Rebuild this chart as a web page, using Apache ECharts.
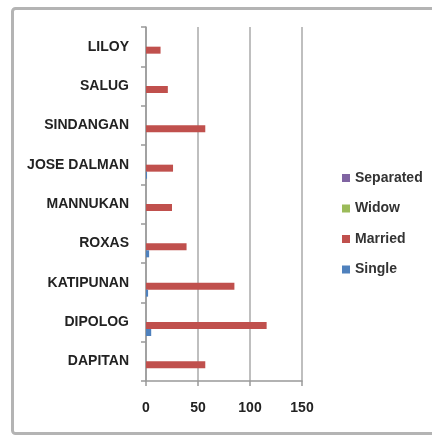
<!DOCTYPE html>
<html>
<head>
<meta charset="utf-8">
<script src="https://cdn.jsdelivr.net/npm/echarts@6/dist/echarts.min.js"></script>
<style>html,body{margin:0;padding:0;background:#fff;}#c{width:432px;height:436px;}</style>
</head>
<body>
<div id="c"></div>
<script>
const categories = ['DAPITAN', 'DIPOLOG', 'KATIPUNAN', 'ROXAS', 'MANNUKAN', 'JOSE DALMAN', 'SINDANGAN', 'SALUG', 'LILOY'];
const single = [0, 5, 2, 3, 0, 1, 0, 0, 0];
const married = [57, 116, 85, 39, 25, 26, 57, 21, 14];
const widow = [0, 0, 0, 0, 0, 0, 0, 0, 0];
const separated = [0, 0, 0, 0, 0, 0, 0, 0, 0];
const xTicks = [0, 50, 100, 150];

const chart = echarts.init(document.getElementById('c'));
const font = '"Liberation Sans", Arial, sans-serif';
function bar(name, data, color) {
  return { name: name, type: 'bar', data: data, barWidth: 7, barGap: '0%',
    itemStyle: { color: color }, emphasis: { disabled: true } };
}
chart.setOption({
  animation: false,
  backgroundColor: '#fff',
  graphic: [{
    type: 'rect', silent: true, z: -1,
    shape: { x: 12.5, y: 8.5, width: 440, height: 425, r: 3 },
    style: { fill: 'none', stroke: '#b4b4b4', lineWidth: 3 }
  }],
  legend: {
    orient: 'vertical', left: 337, top: 166, itemWidth: 8, itemHeight: 8, itemGap: 16.5,
    icon: 'rect',
    textStyle: { fontFamily: font, fontSize: 14, fontWeight: 'bold', color: '#333' },
    data: ['Separated', 'Widow', 'Married', 'Single']
  },
  grid: { left: 146, right: 130, top: 27, bottom: 55, containLabel: false },
  xAxis: {
    type: 'value', min: xTicks[0], max: xTicks[xTicks.length - 1], interval: 50,
    axisLine: { show: true, lineStyle: { color: '#999', width: 1.5 } },
    axisTick: { show: true, length: 5, lineStyle: { color: '#999', width: 1.5 } },
    splitLine: { show: true, lineStyle: { color: '#aaa', width: 1.5 } },
    axisLabel: { margin: 20, fontFamily: font, fontSize: 14, fontWeight: 'bold', color: '#222' }
  },
  yAxis: {
    type: 'category', data: categories,
    axisLine: { show: true, lineStyle: { color: '#999', width: 1.5 } },
    axisTick: { show: true, length: 5, lineStyle: { color: '#999', width: 1.5 } },
    axisLabel: { margin: 17, fontFamily: font, fontSize: 14, fontWeight: 'bold', color: '#222' }
  },
  series: [
    bar('Separated', separated, '#8064A2'),
    bar('Widow', widow, '#9BBB59'),
    bar('Married', married, '#C0504D'),
    bar('Single', single, '#4F81BD')
  ]
});
</script>
</body>
</html>
